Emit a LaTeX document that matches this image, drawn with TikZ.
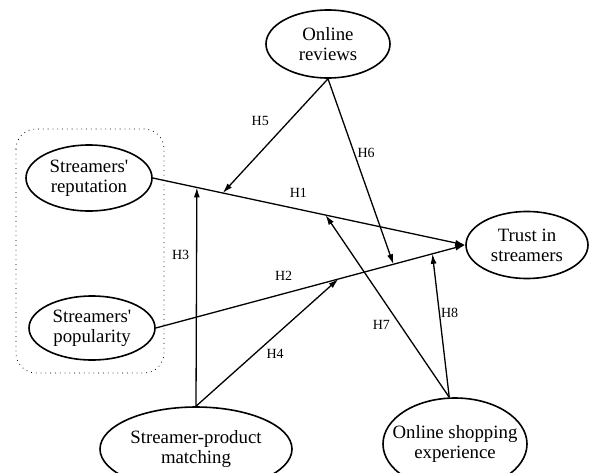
\documentclass[tikz,border=0pt]{standalone}
\usepackage{fontspec}
\setmainfont{Liberation Serif}
\usetikzlibrary{shapes.geometric,arrows.meta}
\begin{document}
\begin{tikzpicture}
  [x=0.5pt,y=-0.5pt,
   every node/.style={font=\fontsize{9.4}{10}\selectfont},
   construct/.style={draw,ellipse,line width=.8pt,align=center,inner xsep=-8pt,inner ysep=0pt}]
  \tikzstyle{link} = [-{Latex[length=5pt,width=3pt]},line width=.65pt]
  \tikzstyle{hyp} = [font=\fontsize{7}{8}\selectfont,inner sep=0pt]
  \useasboundingbox (0,0) rectangle (589,472);
  \clip (0,0) rectangle (589,472);

  % group of streamer traits
  \draw[dotted,line width=.4pt,rounded corners=10pt] (16,129) rectangle (164,373);

  \node[construct,minimum width=62pt,minimum height=34pt] (rev) at (328,44) {Online\\reviews};
  \node[construct,minimum width=63pt,minimum height=33pt] (rep) at (89,178) {Streamers\textquotesingle\\reputation};
  \node[construct,minimum width=63pt,minimum height=32pt] (pop) at (92,328) {Streamers\textquotesingle\\popularity};
  \node[construct,minimum width=61pt,minimum height=33.5pt] (trust) at (527,245) {Trust in\\streamers};
  \node[construct,minimum width=96pt,minimum height=42pt] (spm) at (196,449) {Streamer-product\\matching};
  \node[construct,minimum width=72pt,minimum height=46pt] (shop) at (455,444) {Online shopping\\experience};

  % main paths
  \draw[link] (rep.east) -- coordinate[pos=.141] (p3) coordinate[pos=.224] (p5) coordinate[pos=.553] (p7)
    node[hyp,pos=.466,yshift=8.2pt] (h1) {H1} (trust.west);
  \draw[link] (pop.east) -- coordinate[pos=.59] (p4) coordinate[pos=.768] (p6) coordinate[pos=.894] (p8)
    node[hyp,pos=.413,yshift=8.8pt] (h2) {H2} (trust.west);

  % moderators
  \draw[link] (spm.north) -- node[hyp,pos=.69,xshift=-8pt] (h3) {H3} (p3);
  \draw[link] (spm.north) -- node[hyp,pos=.49,xshift=4.7pt,yshift=-5.2pt] (h4) {H4} (p4);
  \draw[link] (rev.south) -- node[hyp,pos=.37,xshift=-14.4pt] (h5) {H5} (p5);
  \draw[link] (rev.south) -- node[hyp,pos=.40,xshift=6pt] (h6) {H6} (p6);
  \draw[link] (shop.97) -- node[hyp,pos=.449,xshift=-6.2pt,yshift=-4.6pt] (h7) {H7} (p7);
  \draw[link] (shop.97) -- node[hyp,pos=.6,xshift=5.2pt,yshift=-.7pt] (h8) {H8} (p8);
\end{tikzpicture}
\end{document}
